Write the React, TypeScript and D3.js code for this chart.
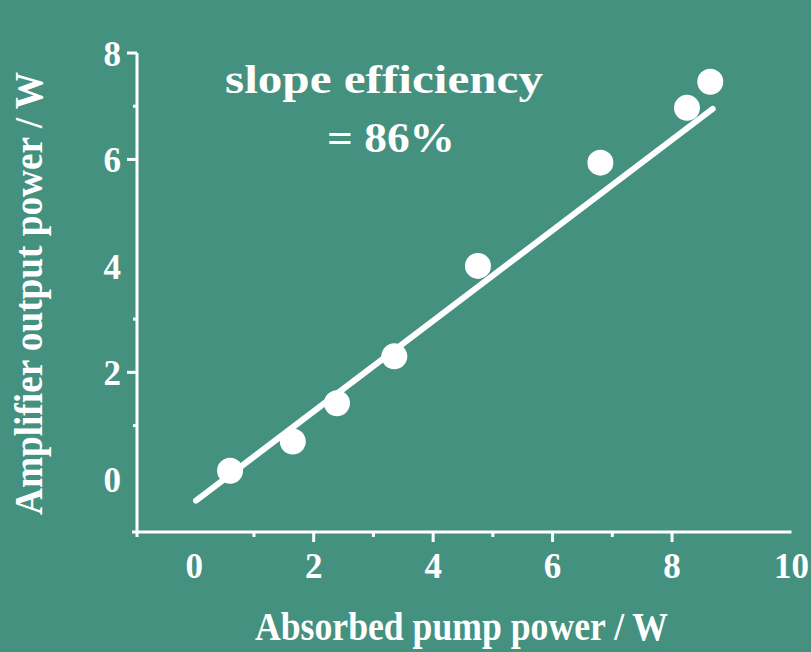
import React from "react";
import * as d3 from "d3";

const pumpPower = [0.6, 1.65, 2.39, 3.35, 4.75, 6.8, 8.25, 8.64];
const outputPower = [0.15, 0.7, 1.42, 2.3, 4.0, 5.94, 6.97, 7.46];
const fitX = [0.03, 8.68];
const fitY = [-0.41, 6.95];
const xTickLabels = [0, 2, 4, 6, 8, 10];
const yTickLabels = [0, 2, 4, 6, 8];
const xMajorTicks = [2, 4, 6, 8];
const xMinorTicks = [1, 3, 5, 7];
const yMajorTicks = [2, 6, 8];
const yMinorTicks = [1, 3, 7];

const W = 811;
const H = 652;
const BG = "#44917f";
const FG = "#ffffff";
const FONT = "'Liberation Serif', 'DejaVu Serif', serif";

export default function App() {
  const x = d3.scaleLinear().domain([-1, 10]).range([134.5, 791.5]);
  const y = d3.scaleLinear().domain([-1, 8]).range([532, 53]);
  const line = d3
    .line<number>()
    .x((d, i) => x(fitX[i]))
    .y((d, i) => y(fitY[i]));
  const x0 = 137;
  const yb = y(-1);

  return (
    <svg
      width={W}
      height={H}
      style={{ position: "absolute", left: 0, top: 0, display: "block" }}
      fontFamily={FONT}
      fontWeight="bold"
    >
      <rect x={0} y={0} width={W} height={H} fill={BG} />
      {/* axes */}
      <line x1={x0} x2={x0} y1={y(8)} y2={yb + 5} stroke={FG} strokeWidth={3} />
      <line x1={x0 - 5} x2={x(10)} y1={yb} y2={yb} stroke={FG} strokeWidth={3} />
      {yMajorTicks.map((t) => (
        <line key={"ym" + t} x1={x0 - 10} x2={x0} y1={y(t)} y2={y(t)} stroke={FG} strokeWidth={3} />
      ))}
      {yMinorTicks.map((t) => (
        <line key={"yn" + t} x1={x0 - 4} x2={x0} y1={y(t)} y2={y(t)} stroke={FG} strokeWidth={3} />
      ))}
      {xMajorTicks.map((t) => (
        <line key={"xm" + t} x1={x(t)} x2={x(t)} y1={yb} y2={yb + 10} stroke={FG} strokeWidth={3} />
      ))}
      {xMinorTicks.map((t) => (
        <line key={"xn" + t} x1={x(t)} x2={x(t)} y1={yb} y2={yb + 5} stroke={FG} strokeWidth={3} />
      ))}
      {xTickLabels.map((t) => (
        <text key={"xl" + t} x={x(t)} y={578} fill={FG} fontSize={35} textAnchor="middle">
          {t}
        </text>
      ))}
      {yTickLabels.map((t) => (
        <text key={"yl" + t} x={121} y={y(t) + 13} fill={FG} fontSize={35} textAnchor="end">
          {t}
        </text>
      ))}
      {/* fit line */}
      <path d={line(fitX) || ""} stroke={FG} strokeWidth={6} strokeLinecap="round" fill="none" />
      {pumpPower.map((p, i) => (
        <circle key={"pt" + i} cx={x(p)} cy={y(outputPower[i])} r={13} fill={FG} />
      ))}
      {/* annotation */}
      <text x={225} y={93} fill={FG} fontSize={40} textLength={318} lengthAdjust="spacingAndGlyphs">
        slope efficiency
      </text>
      <text x={327} y={152} fill={FG} fontSize={42} textLength={128} lengthAdjust="spacingAndGlyphs">
        = 86%
      </text>
      {/* axis titles */}
      <text x={255} y={640} fill={FG} fontSize={40} textLength={413} lengthAdjust="spacingAndGlyphs">
        Absorbed pump power / W
      </text>
      <text
        transform="translate(42,515) rotate(-90)"
        fill={FG}
        fontSize={40}
        textLength={443}
        lengthAdjust="spacingAndGlyphs"
      >
        Amplifier output power / W
      </text>
    </svg>
  );
}
